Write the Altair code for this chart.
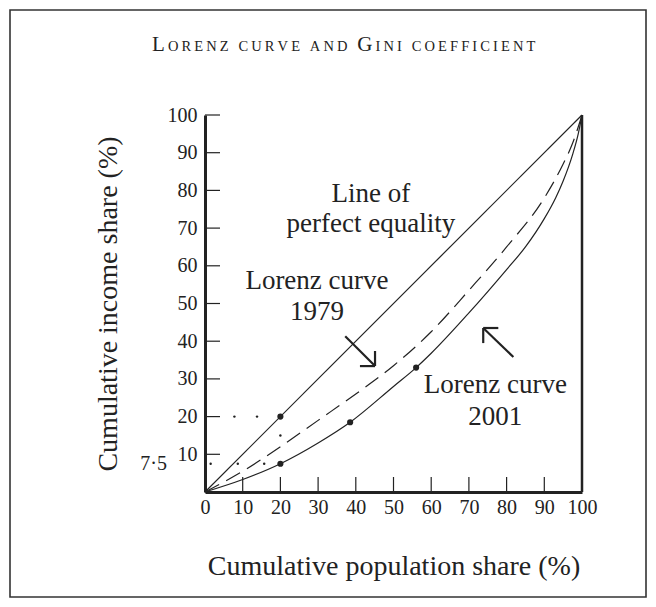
import altair as alt
import pandas as pd

# ---------------- data ----------------
title_text = "Lorenz curve and Gini coefficient"
x_title = "Cumulative population share (%)"
y_title = "Cumulative income share (%)"

x_ticks = [0, 10, 20, 30, 40, 50, 60, 70, 80, 90, 100]
y_ticks = [10, 20, 30, 40, 50, 60, 70, 80, 90, 100]
extra_y_label = "7·5"
extra_y_value = 7.5

equality_x = [0, 100]
equality_y = [0, 100]
lorenz_1979_x = [0, 10, 20, 30, 40, 50, 60, 70, 80, 90, 95, 97.5, 100]
lorenz_1979_y = [0, 5.5, 12, 19, 26, 33.5, 42.5, 53.5, 65, 78, 87, 92.5, 100]
lorenz_2001_x = [0, 10, 20, 30, 38.5, 50, 56, 60, 70, 80, 85, 90, 93, 95, 97.5, 99, 100]
lorenz_2001_y = [0, 3.3, 7.5, 13, 18.5, 28, 33, 36.8, 47.5, 59, 65, 72.5, 78, 82.5, 89.5, 95, 100]

marker_x = [20, 20, 38.5, 56]
marker_y = [20, 7.5, 18.5, 33]
guide_x = [1.5, 8.7, 15.7, 7.8, 13.8, 20]
guide_y = [7.5, 7.5, 7.5, 20, 20, 15]

annot_text = ["Line of", "perfect equality", "Lorenz curve", "1979", "Lorenz curve", "2001"]
annot_x = [44, 44, 29.7, 29.7, 77, 77]
annot_y = [79, 71, 56, 47.7, 28.3, 20]

arrow_x = [37.2, 81.8, 45.1, 45.1, 73.8, 73.8]
arrow_y = [41.3, 35.8, 33.4, 33.4, 43.5, 43.5]
arrow_x2 = [45.1, 73.8, 45.1, 41.1, 73.8, 77.8]
arrow_y2 = [33.4, 43.5, 37.4, 33.4, 39.5, 43.5]

# ---------------- layout ----------------
W, H = 377, 377
FONT = "Liberation Serif"
INK = "#222222"

xs = alt.Scale(domain=[0, 100], nice=False, zero=False)
ys = alt.Scale(domain=[0, 100], nice=False, zero=False)
xaxis = alt.Axis(values=x_ticks, title=x_title, ticks=False, grid=False,
                 domainWidth=3, domainColor=INK, labelFont=FONT, labelFontSize=20,
                 labelColor=INK, labelPadding=5, titleFont=FONT, titleFontSize=28,
                 titleFontWeight="normal", titleColor=INK, titlePadding=35,
                 labelFlush=False, labelOverlap=False)
yaxis = alt.Axis(values=y_ticks, title=y_title, ticks=False, grid=False,
                 domainWidth=3, domainColor=INK, labelFont=FONT, labelFontSize=20,
                 labelColor=INK, labelPadding=8, titleFont=FONT, titleFontSize=28,
                 titleFontWeight="normal", titleColor=INK, titlePadding=45,
                 labelFlush=False, labelOverlap=False)

X = lambda: alt.X("x:Q", scale=xs, axis=xaxis)
Y = lambda: alt.Y("y:Q", scale=ys, axis=yaxis)

eq_df = pd.DataFrame({"x": equality_x, "y": equality_y})
l79_df = pd.DataFrame({"x": lorenz_1979_x, "y": lorenz_1979_y})
l01_df = pd.DataFrame({"x": lorenz_2001_x, "y": lorenz_2001_y})
mk_df = pd.DataFrame({"x": marker_x, "y": marker_y})
gd_df = pd.DataFrame({"x": guide_x, "y": guide_y})
an_df = pd.DataFrame({"x": annot_x, "y": annot_y, "t": annot_text})
ar_df = pd.DataFrame({"x": arrow_x, "y": arrow_y, "x2": arrow_x2, "y2": arrow_y2})
xt_df = pd.DataFrame({"x": x_ticks[1:-1]})
yt_df = pd.DataFrame({"y": y_ticks})
rb_df = pd.DataFrame({"x": [100]})
ex_df = pd.DataFrame({"y": [extra_y_value], "t": [extra_y_label]})

eq = alt.Chart(eq_df).mark_line(color=INK, strokeWidth=1.2).encode(x=X(), y=Y())
l79 = alt.Chart(l79_df).mark_line(color=INK, strokeWidth=1.2, strokeDash=[16, 8],
                                  interpolate="monotone").encode(x=X(), y=Y())
l01 = alt.Chart(l01_df).mark_line(color=INK, strokeWidth=1.2,
                                  interpolate="monotone").encode(x=X(), y=Y())
mk = alt.Chart(mk_df).mark_circle(color=INK, size=38, opacity=1).encode(x=X(), y=Y())
gd = alt.Chart(gd_df).mark_circle(color=INK, size=6, opacity=1).encode(x=X(), y=Y())
an = alt.Chart(an_df).mark_text(font=FONT, fontSize=27, color=INK, align="center",
                                baseline="middle").encode(x=X(), y=Y(), text="t:N")
ar = alt.Chart(ar_df).mark_rule(color=INK, strokeWidth=2.2).encode(
    x=X(), y=Y(), x2="x2:Q", y2="y2:Q")
xt = alt.Chart(xt_df).mark_rule(color=INK, strokeWidth=1.2).encode(
    x=X(), y=alt.value(H), y2=alt.value(H - 15))
yt = alt.Chart(yt_df).mark_rule(color=INK, strokeWidth=1.2).encode(
    y=Y(), x=alt.value(0), x2=alt.value(15))
rb = alt.Chart(rb_df).mark_rule(color=INK, strokeWidth=2.5).encode(
    x=X(), y=alt.value(0), y2=alt.value(H))
ex = alt.Chart(ex_df).mark_text(font=FONT, fontSize=20, color=INK, align="right",
                                baseline="middle").encode(
    y=Y(), x=alt.value(-38), text="t:N")

frame = alt.Chart(pd.DataFrame({"a": [0]})).mark_rect(
    fill="white", fillOpacity=0, stroke="#333333", strokeWidth=1.6).encode(
    x=alt.value(-195), x2=alt.value(441), y=alt.value(-105), y2=alt.value(482))

# title in small capitals with letter tracking
cap_w = {"A": .722, "C": .667, "D": .722, "E": .611, "F": .556, "G": .722, "I": .333,
         "L": .611, "N": .722, "O": .722, "R": .667, "T": .611, "U": .722, "V": .722,
         "Z": .611, " ": .25}
BIG, SMALL, TRACK = 21, 14.5, 3.1
pos = -53.0
title_layers = []
one = pd.DataFrame({"a": [0]})
for ch in title_text:
    up = ch.upper()
    size = BIG if ch.isupper() else SMALL
    if ch != " ":
        title_layers.append(
            alt.Chart(one).mark_text(text=up, font=FONT, fontSize=size, color=INK,
                                     align="left", baseline="alphabetic").encode(
                x=alt.value(pos), y=alt.value(-64)))
    pos += cap_w.get(up, .65) * size + TRACK

chart = alt.layer(frame, eq, l79, l01, gd, mk, ar, xt, yt, rb, an, ex, *title_layers).properties(
    width=W, height=H,
    autosize=alt.AutoSizeParams(type="none"),
    padding={"left": 197, "top": 107, "right": 66, "bottom": 107},
    background="white",
).configure_view(stroke=None)

chart.save("out.html", embed_options={"renderer": "svg", "actions": False})
